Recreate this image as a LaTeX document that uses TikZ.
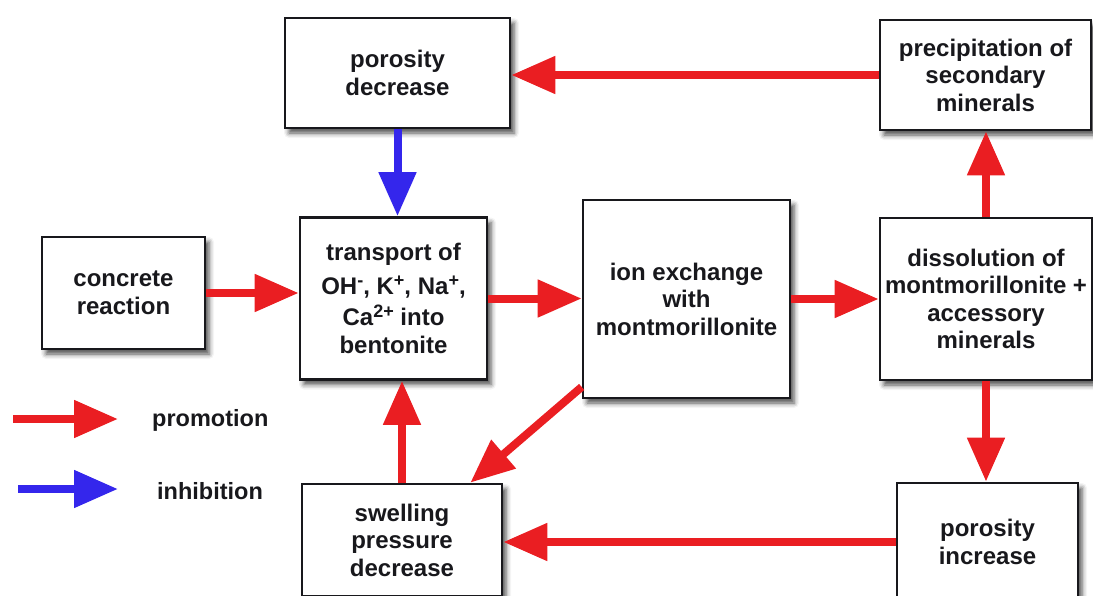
\documentclass[tikz,border=0pt]{standalone}
\usepackage{fontspec}
\setmainfont{Liberation Sans}
\usepackage{tikz}
\usetikzlibrary{arrows.meta}
\usetikzlibrary{shadows.blur}

\definecolor{promred}{RGB}{234,30,34}
\definecolor{inhblue}{RGB}{52,38,236}
\definecolor{boxline}{RGB}{24,24,28}

\newcommand{\ionsup}[1]{\raisebox{8pt}{\fontsize{18}{18}\selectfont #1}}

\tikzset{
  box/.style={draw=boxline, line width=2.6pt, fill=white, align=center,
    inner sep=2pt, text=boxline,
    font=\bfseries\fontsize{24}{27.5}\selectfont,
    blur shadow={shadow xshift=4pt, shadow yshift=-5pt, shadow blur radius=5pt, shadow opacity=70}},
  legendtext/.style={anchor=west, inner sep=0pt, text=boxline,
    font=\bfseries\fontsize{23.5}{27.5}\selectfont},
  promote/.style={draw=promred, fill=promred, line width=8pt, -{Triangle[length=44pt,width=36pt]}},
  inhibit/.style={draw=inhblue, fill=inhblue, line width=8pt, -{Triangle[length=44pt,width=36pt]}}
}

\begin{document}
\begin{tikzpicture}[x=1pt,y=1pt,yscale=-1,xscale=1]
\useasboundingbox (0,0) rectangle (1093,595);

% Text Node
\node (pordec) at (397.5,73) [box, minimum width=225pt, minimum height=110pt] {porosity\\decrease};
% Text Node
\node (precip) at (985.5,75) [box, minimum width=211pt, minimum height=110pt] {precipitation of\\secondary\\minerals};
% Text Node
\node (concr) at (123.5,293) [box, minimum width=163pt, minimum height=112pt] {concrete\\reaction};
% Text Node
\node (transp) at (393.5,298.5) [box, minimum width=187pt, minimum height=162pt]
  {transport of\\[6pt]OH\ionsup{-}, K\ionsup{+}, Na\ionsup{+},\\[4pt]Ca\ionsup{2+} into\\bentonite};
% Text Node
\node (ionex) at (686.5,299) [box, minimum width=207pt, minimum height=198pt] {ion exchange\\with\\montmorillonite};
% Text Node
\node (dissol) at (986,299) [box, minimum width=212pt, minimum height=162pt] {dissolution of\\montmorillonite +\\accessory\\minerals};
% Text Node
\node (swell) at (402,540) [box, minimum width=200pt, minimum height=112pt] {swelling\\pressure\\decrease};
% Text Node
\node (porinc) at (987.5,542) [box, minimum width=181pt, minimum height=118pt] {porosity\\increase};

%Straight Lines [promotion / inhibition]
\draw [promote] (precip.west) -- (precip.west -| pordec.east);
\draw [inhibit] (pordec.south) -- (pordec.south |- transp.north);
\draw [promote] (concr.east) -- (concr.east -| transp.west);
\draw [promote] (transp.east) -- (transp.east -| ionex.west);
\draw [promote] (ionex.east) -- (ionex.east -| dissol.west);
\draw [promote] (dissol.north) -- (dissol.north |- precip.south);
\draw [promote] (dissol.south) -- (dissol.south |- porinc.north);
\draw [promote] (porinc.west) -- (porinc.west -| swell.east);
\draw [promote] (swell.north) -- (swell.north |- transp.south);
\draw [promote] (ionex.220) -- (swell.40);

% Legend
\coordinate (promA) at (13,419);
\coordinate (promB) at (118,419);
\coordinate (inhA) at (18,489);
\coordinate (inhB) at (118,489);
\draw [promote] (promA) -- (promB);
\draw [inhibit] (inhA) -- (inhB);
% Text Node
\node (promlab) at (152,420) [legendtext] {promotion};
% Text Node
\node (inhlab) at (157,491) [legendtext] {inhibition};

\end{tikzpicture}
\end{document}
